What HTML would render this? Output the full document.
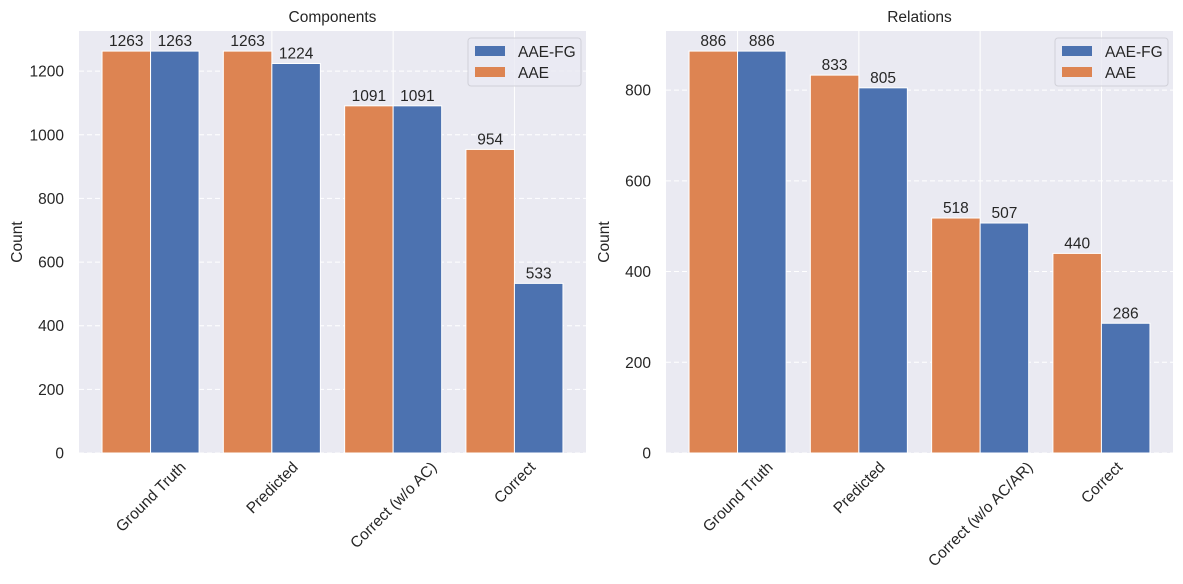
<!DOCTYPE html>
<html><head><meta charset="utf-8">
<style>
html,body{margin:0;padding:0;background:#fff;}
svg{display:block;font-family:"Liberation Sans","DejaVu Sans",sans-serif;}
</style></head>
<body>
<svg id="chart" width="1183" height="584"></svg>
<script>
const categoriesLeft = ["Ground Truth","Predicted","Correct (w/o AC)","Correct"];
const aaeLeft = [1263,1263,1091,954];
const aaefgLeft = [1263,1224,1091,533];
const ticksLeft = [0,200,400,600,800,1000,1200];
const categoriesRight = ["Ground Truth","Predicted","Correct (w/o AC/AR)","Correct"];
const aaeRight = [886,833,518,440];
const aaefgRight = [886,805,507,286];
const ticksRight = [0,200,400,600,800];
const titles = ["Components","Relations"];

const NS="http://www.w3.org/2000/svg";
const svg=document.getElementById('chart');
const FS=15.5;
function mk(tag,attrs,parent){const e=document.createElementNS(NS,tag);for(const k in attrs)e.setAttribute(k,attrs[k]);(parent||svg).appendChild(e);return e;}

function panel(idx,x0,x1,cats,aae,fg,ticks,title){
  const top=31,bot=453;
  const g=mk('g',{});
  
  
  const ymax=Math.max(...aae,...fg)*1.05;
  const y=v=>bot-(v/ymax)*(bot-top);
  const xmin=-0.59,xmax=cats.length-1+0.59;
  const x=v=>x0+(v-xmin)/(xmax-xmin)*(x1-x0);
  const bg=mk('rect',{x:x0,y:top,width:x1-x0,height:bot-top,fill:'#eaeaf2'},g);
  
  
  ticks.forEach(t=>{
    mk('line',{x1:x0,x2:x1,y1:y(t),y2:y(t),stroke:'#fff','stroke-width':1,'stroke-dasharray':'5,3'},g);
    const tl=mk('text',{x:x0-15,y:y(t)+5.5,'text-anchor':'end','font-size':FS,fill:'#262626'},g);
    tl.textContent=t;
    
    
  });
  cats.forEach((c,i)=>{
    mk('line',{x1:x(i),x2:x(i),y1:top,y2:bot,stroke:'#fff','stroke-width':1},g);
  });
  const bw=(x(0.4)-x(0));
  cats.forEach((c,i)=>{
    const series=[[aae[i],'#dd8452',-0.2,'bar-aae'],[fg[i],'#4c72b0',0.2,'bar-aae-fg']];
    series.forEach(([v,col,off,nm])=>{
      const r=mk('rect',{x:x(i+off)-bw/2,y:y(v),width:bw,height:bot-y(v),fill:col,stroke:'#fff','stroke-width':1},g);
      
      
      const t=mk('text',{x:x(i+off),y:y(v)-5,'text-anchor':'middle','font-size':FS,fill:'#262626'},g);
      t.textContent=v;
      
      
    });
    const lbl=mk('text',{'text-anchor':'middle','font-size':FS,fill:'#262626'},g);
    lbl.textContent=c;
    
    
    const L=lbl.getComputedTextLength();
    const h=(L+12)*0.7071;
    const cx=x(i), cy=460+h/2;
    lbl.setAttribute('x',cx);lbl.setAttribute('y',cy+5.5);
    lbl.setAttribute('transform',`rotate(-45 ${cx} ${cy})`);
  });
  const tt=mk('text',{x:(x0+x1)/2,y:22,'text-anchor':'middle','font-size':FS,fill:'#262626'},g);
  tt.textContent=title;
  
  
  const yl=mk('text',{x:0,y:0,'text-anchor':'middle','font-size':FS,fill:'#262626',transform:`translate(${x0-57},${(top+bot)/2}) rotate(-90)`},g);
  yl.textContent='Count';
  
  
  const lx=x1-118, ly=38;
  const lg=mk('g',{},g);
  
  
  mk('rect',{x:lx,y:ly,width:113,height:48,rx:3,fill:'#eaeaf2','fill-opacity':0.8,stroke:'#d0d0d8'},lg);
  [['AAE-FG','#4c72b0'],['AAE','#dd8452']].forEach(([n,c],k)=>{
    mk('rect',{x:lx+7,y:ly+8+k*21,width:30,height:10,fill:c},lg);
    const t=mk('text',{x:lx+50,y:ly+19+k*21,'font-size':FS,fill:'#262626'},lg);
    t.textContent=n;
    
    
  });
}
panel(0,79,586,categoriesLeft,aaeLeft,aaefgLeft,ticksLeft,titles[0]);
panel(1,666,1173,categoriesRight,aaeRight,aaefgRight,ticksRight,titles[1]);
</script>
</body></html>
